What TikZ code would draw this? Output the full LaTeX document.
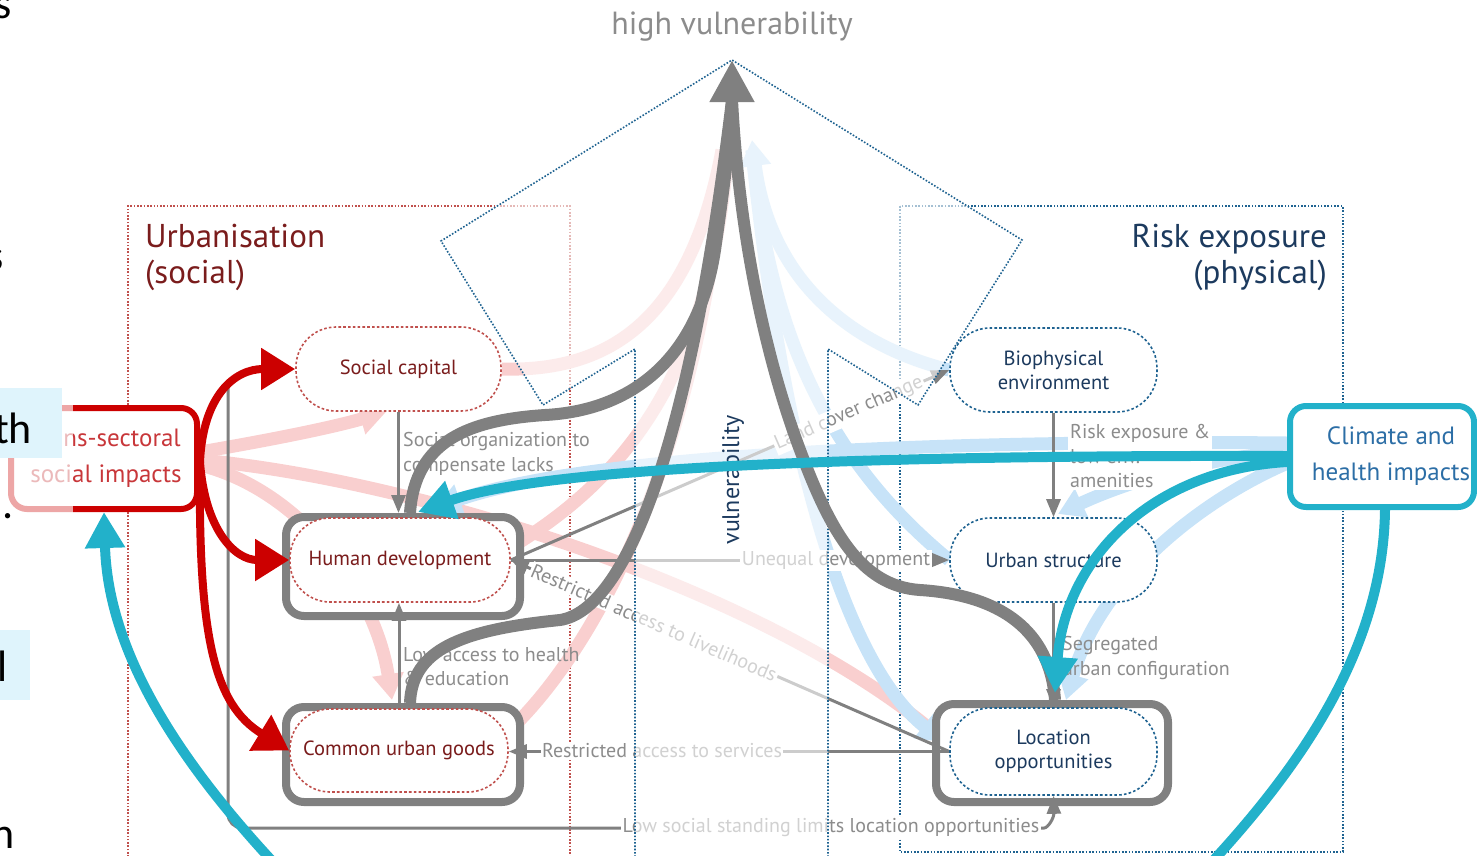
\documentclass[tikz,border=0pt]{standalone}
\usepackage{fontspec}
\setmainfont{PT Sans}
\newfontfamily\slidefamily{Carlito}
\usetikzlibrary{arrows.meta}

\definecolor{dred}{HTML}{7A1C1C}
\definecolor{rdot}{HTML}{C0504D}
\definecolor{bdot}{HTML}{1F6391}
\definecolor{navy}{HTML}{1C3A5E}
\definecolor{lgray}{HTML}{8C8C8C}
\definecolor{mgray}{HTML}{808080}
\definecolor{cyanA}{HTML}{22B1CA}
\definecolor{redA}{HTML}{CC0000}
\definecolor{pinkA}{HTML}{F9CFCF}
\definecolor{lblue}{HTML}{C7E3F8}
\definecolor{hlblue}{HTML}{DFF4FC}
\definecolor{tred}{HTML}{C8373A}
\definecolor{tblue}{HTML}{2C6EA6}

\newcommand\fNode{\fontsize{20.5pt}{24pt}\selectfont}
\newcommand\fLab{\fontsize{20pt}{24.5pt}\selectfont}
\newcommand\fTitle{\fontsize{33pt}{36pt}\selectfont}
\newcommand\fHigh{\fontsize{32pt}{36pt}\selectfont}
\newcommand\fImp{\fontsize{25pt}{36pt}\selectfont}
\newcommand\fVul{\fontsize{24pt}{28pt}\selectfont}
\newcommand\fSlide{\fontsize{44pt}{50pt}\selectfont}

\pgfdeclarelayer{boxes}
\pgfdeclarelayer{soft}
\pgfdeclarelayer{frames}
\pgfdeclarelayer{links}
\pgfdeclarelayer{veil}
\pgfdeclarelayer{bold}
\pgfdeclarelayer{top}
\pgfsetlayers{boxes,soft,frames,links,veil,main,bold,top}

\begin{document}
\begin{tikzpicture}[x=1pt,y=-1pt,
  dotrule/.style={line width=1.6pt, dash pattern=on 1.6pt off 1.7pt},
  pillR/.style={draw=rdot, line width=1.6pt, dash pattern=on 2.6pt off 2.2pt, rounded corners=40pt, fill=white, minimum height=84pt, inner sep=0pt, align=center, text=dred, font=\fNode},
  pillB/.style={pillR, draw=bdot, text=navy},
  outerbox/.style={draw=mgray, line width=8pt, rounded corners=18pt, fill=white, inner sep=0pt},
  impact/.style={line width=6pt, rounded corners=16pt, fill=white, inner sep=0pt, minimum height=101pt},
  imptext/.style={align=center, font=\fImp, inner sep=0pt},
  link/.style={draw=mgray, line width=3pt, -{Triangle[length=18pt,width=14pt]}},
  lab/.style={text=lgray, font=\fLab, inner sep=0pt},
  onlab/.style={lab, fill=white, inner sep=1.5pt},
  softred/.style={draw=pinkA, line width=13pt},
  softblue/.style={draw=lblue, line width=13pt},
  softtip/.style={-{Triangle[length=26pt,width=30pt]}},
  boldgray/.style={draw=mgray, line width=12pt},
  redlink/.style={draw=redA, line width=8pt, -{Triangle[length=34pt,width=40pt]}},
  cyanlink/.style={draw=cyanA, line width=10pt},
  cyantip/.style={-{Triangle[length=36pt,width=38pt]}},
  headline/.style={font=\fTitle, inner sep=0pt},
  frag/.style={font=\slidefamily\fSlide, inner sep=0pt, text=black}
]
\useasboundingbox (0,0) rectangle (1477,855);

% ---------- domain frames and headings ----------
\begin{pgfonlayer}{boxes}
  \draw[rdot, dotrule] (128,880) -- (128,206) -- (570,206) -- (570,880);
  \draw[bdot, dotrule] (900,206) rectangle (1343,852);
  \node[headline, text=dred, anchor=base west] (urbA) at (145,247) {Urbanisation};
  \node[headline, text=dred, anchor=base west] (urbB) at (145,283) {(social)};
  \node[headline, text=navy, anchor=base east] (riskA) at (1327,247) {Risk exposure};
  \node[headline, text=navy, anchor=base east] (riskB) at (1327,283) {(physical)};
  \node[font=\fHigh, inner sep=0pt, text=lgray, anchor=base] (hv) at (732,34) {high vulnerability};
\end{pgfonlayer}

% ---------- heavy frames around the key nodes ----------
\begin{pgfonlayer}{frames}
  \node[outerbox, minimum width=234pt, minimum height=99pt] (hdo) at (403,566.5) {};
  \node[outerbox, minimum width=234pt, minimum height=95pt] (cugo) at (403,754.5) {};
  \node[outerbox, minimum width=232pt, minimum height=98pt] (loo) at (1052,753) {};
\end{pgfonlayer}

% ---------- nodes ----------
\node[pillR, minimum width=205pt] (sc) at (398.5,369) {Social capital};
\node[pillR, minimum width=220pt] (hd) at (400,560) {Human development};
\node[pillR, minimum width=218pt, minimum height=83pt] (cug) at (399,750.5) {Common urban goods};
\node[pillB, minimum width=207pt] (bio) at (1053.5,370) {Biophysical\\environment};
\node[pillB, minimum width=207pt] (us) at (1053.5,560) {Urban structure};
\node[pillB, minimum width=207pt, minimum height=87pt] (lo) at (1053.5,751.5) {Location\\opportunities};
\node[impact, draw=redA, minimum width=186pt] (trans) at (104,458.5) {};
\node[imptext, text=tred] (transT) at (106,458.5) {Trans-sectoral\\social impacts};
\node[impact, draw=cyanA, minimum width=184pt] (clim) at (1382,456.5) {};
\node[imptext, text=tblue] (climT) at (1391,456) {Climate and\\health impacts};

% ---------- faint background flows ----------
\begin{pgfonlayer}{soft}
  \draw[softred, softtip] (200,452) .. controls (270,440) and (330,428) .. (386,412);
  \draw[softred, softtip] (200,460) .. controls (420,480) and (760,590) .. (946,742);
  \draw[softred, softtip] (200,465) .. controls (300,490) and (375,590) .. (392,700);
  \draw[softred] (sc.east) .. controls (610,372) and (690,320) .. (722,150);
  \draw[softred] (515,545) .. controls (620,480) and (710,380) .. (728,150);
  \draw[softred] (515,725) .. controls (600,640) and (700,450) .. (725,150);
  \draw[softblue, softtip] (1287,443) .. controls (1000,440) and (600,450) .. (435,508);
  \draw[softblue, softtip] (1287,452) .. controls (1200,458) and (1120,485) .. (1058,514);
  \draw[softblue, softtip] (1290,462) .. controls (1200,500) and (1100,580) .. (1066,700);
  \draw[softblue, softtip] (bio.west) .. controls (850,345) and (770,280) .. (752,140);
  \draw[softblue] (us.west) .. controls (840,470) and (770,350) .. (752,150);
  \draw[softblue, softtip] (752,150) .. controls (780,430) and (840,660) .. (944,742);
\end{pgfonlayer}

% ---------- thin labelled relations ----------
\begin{pgfonlayer}{links}
  \draw[link] (sc.south) -- (sc.south |- hdo.north);
  \node[lab, anchor=base west] (soA) at (403,446) {Social organization to};
  \node[lab, anchor=base west] (soB) at (403,471) {compensate lacks};
  \draw[link] (cug.north) -- (cug.north |- hd.south);
  \node[lab, anchor=base west] (laA) at (403,661) {Low access to health};
  \node[lab, anchor=base west] (laB) at (403,685) {\& education};
  \draw[link] (bio.south) -- (us.north);
  \node[lab, fill=white, inner sep=2pt, align=left, anchor=west] (rexp) at (1068,456) {Risk exposure \&\\low env.\\amenities};
  \draw[link] (us.south) -- (lo.north);
  \node[lab, anchor=base west] (sgA) at (1062,650) {Segregated};
  \node[lab, anchor=base west] (sgB) at (1062,675) {urban configuration};
  \draw[link] (hd.east) -- (us.west);
  \node[onlab] (uneq) at (836,560) {Unequal development};
  \draw[link] (hd.east) -- (bio.west);
  \node[onlab, rotate=23.4] (land) at (849,413.6) {Land cover change};
  \draw[link] (lo.west) -- (hd.east);
  \node[onlab, rotate=-23.5] (livh) at (654,622.7) {Restricted access to livelihoods};
  \draw[link] (lo.west) -- (lo.west -| cug.east);
  \node[onlab] (serv) at (662,751) {Restricted access to services};
  \draw[link, rounded corners=14pt] (228,383) -- (228,828) -- (1030,828) .. controls (1048,828) and (1054,818) .. (lo.south);
  \node[onlab] (lowst) at (831,828) {Low social standing limits location opportunities};
\end{pgfonlayer}

% ---------- vulnerability funnel ----------
\begin{pgfonlayer}{veil}
  \fill[white, opacity=0.6] (635,880) -- (635,349) -- (543,405) -- (441,241) -- (732,60) -- (1022,240) -- (918,405) -- (828,349) -- (828,880) -- cycle;
  \draw[bdot, dotrule] (635,880) -- (635,349) -- (543,405) -- (441,241) -- (732,60) -- (1022,240) -- (918,405) -- (828,349) -- (828,880);
  \node[font=\fVul, text=navy, rotate=90, inner sep=0pt] (vul) at (733,480) {vulnerability};
\end{pgfonlayer}

% ---------- main flows ----------
\begin{pgfonlayer}{bold}
  \draw[boldgray] (410,513) .. controls (415,440) and (470,420) .. (545,415) .. controls (640,410) and (700,350) .. (715,250) .. controls (725,180) and (730,140) .. (732,100);
  \draw[boldgray] (410,703) .. controls (412,650) and (460,630) .. (560,620) .. controls (625,610) and (690,450) .. (732,100);
  \draw[boldgray] (1055,700) .. controls (1050,630) and (1000,595) .. (920,590) .. controls (860,586) and (830,530) .. (800,450) .. controls (770,370) and (740,250) .. (732,100);
  \draw[mgray, line width=12pt, -{Triangle[length=42pt,width=42pt]}] (732,120) -- (732,60);

  \draw[redlink] (200,462) .. controls (203,395) and (235,369) .. (sc.west);
  \draw[redlink] (200,462) .. controls (205,530) and (235,560) .. (hd.west);
  \draw[redlink] (200,462) .. controls (198,640) and (215,705) .. (cug.west);

  \draw[cyanlink, cyantip] (1287,456) .. controls (900,455) and (550,465) .. (418,512);
  \draw[cyanlink, cyantip] (1287,462) .. controls (1150,470) and (1065,560) .. (1055,693);
  \draw[cyanlink] (clim.south -| 1385,0) .. controls (1383,650) and (1300,770) .. (1195,880);
  \draw[cyanlink, cyantip] (290,880) .. controls (175,760) and (108,650) .. (trans.south);
\end{pgfonlayer}

% ---------- slide margin text ----------
\begin{pgfonlayer}{top}
  \fill[white, opacity=0.65] (0,380) rectangle (73,525);
  \fill[hlblue] (0,388) rectangle (62,458);
  \fill[hlblue] (0,630) rectangle (30,700);
  \node[frag, anchor=base east] (fs1) at (12,18) {s};
  \node[frag, anchor=base east] (fs2) at (4,270) {s};
  \node[frag, anchor=base west] (fs3) at (-6,443) {th};
  \node[frag, anchor=base west] (fs4) at (2,518) {.};
  \node[frag, anchor=base west] (fs5) at (-3,681) {l};
  \node[frag, anchor=base east] (fs6) at (15,848) {n};
\end{pgfonlayer}
\end{tikzpicture}
\end{document}
